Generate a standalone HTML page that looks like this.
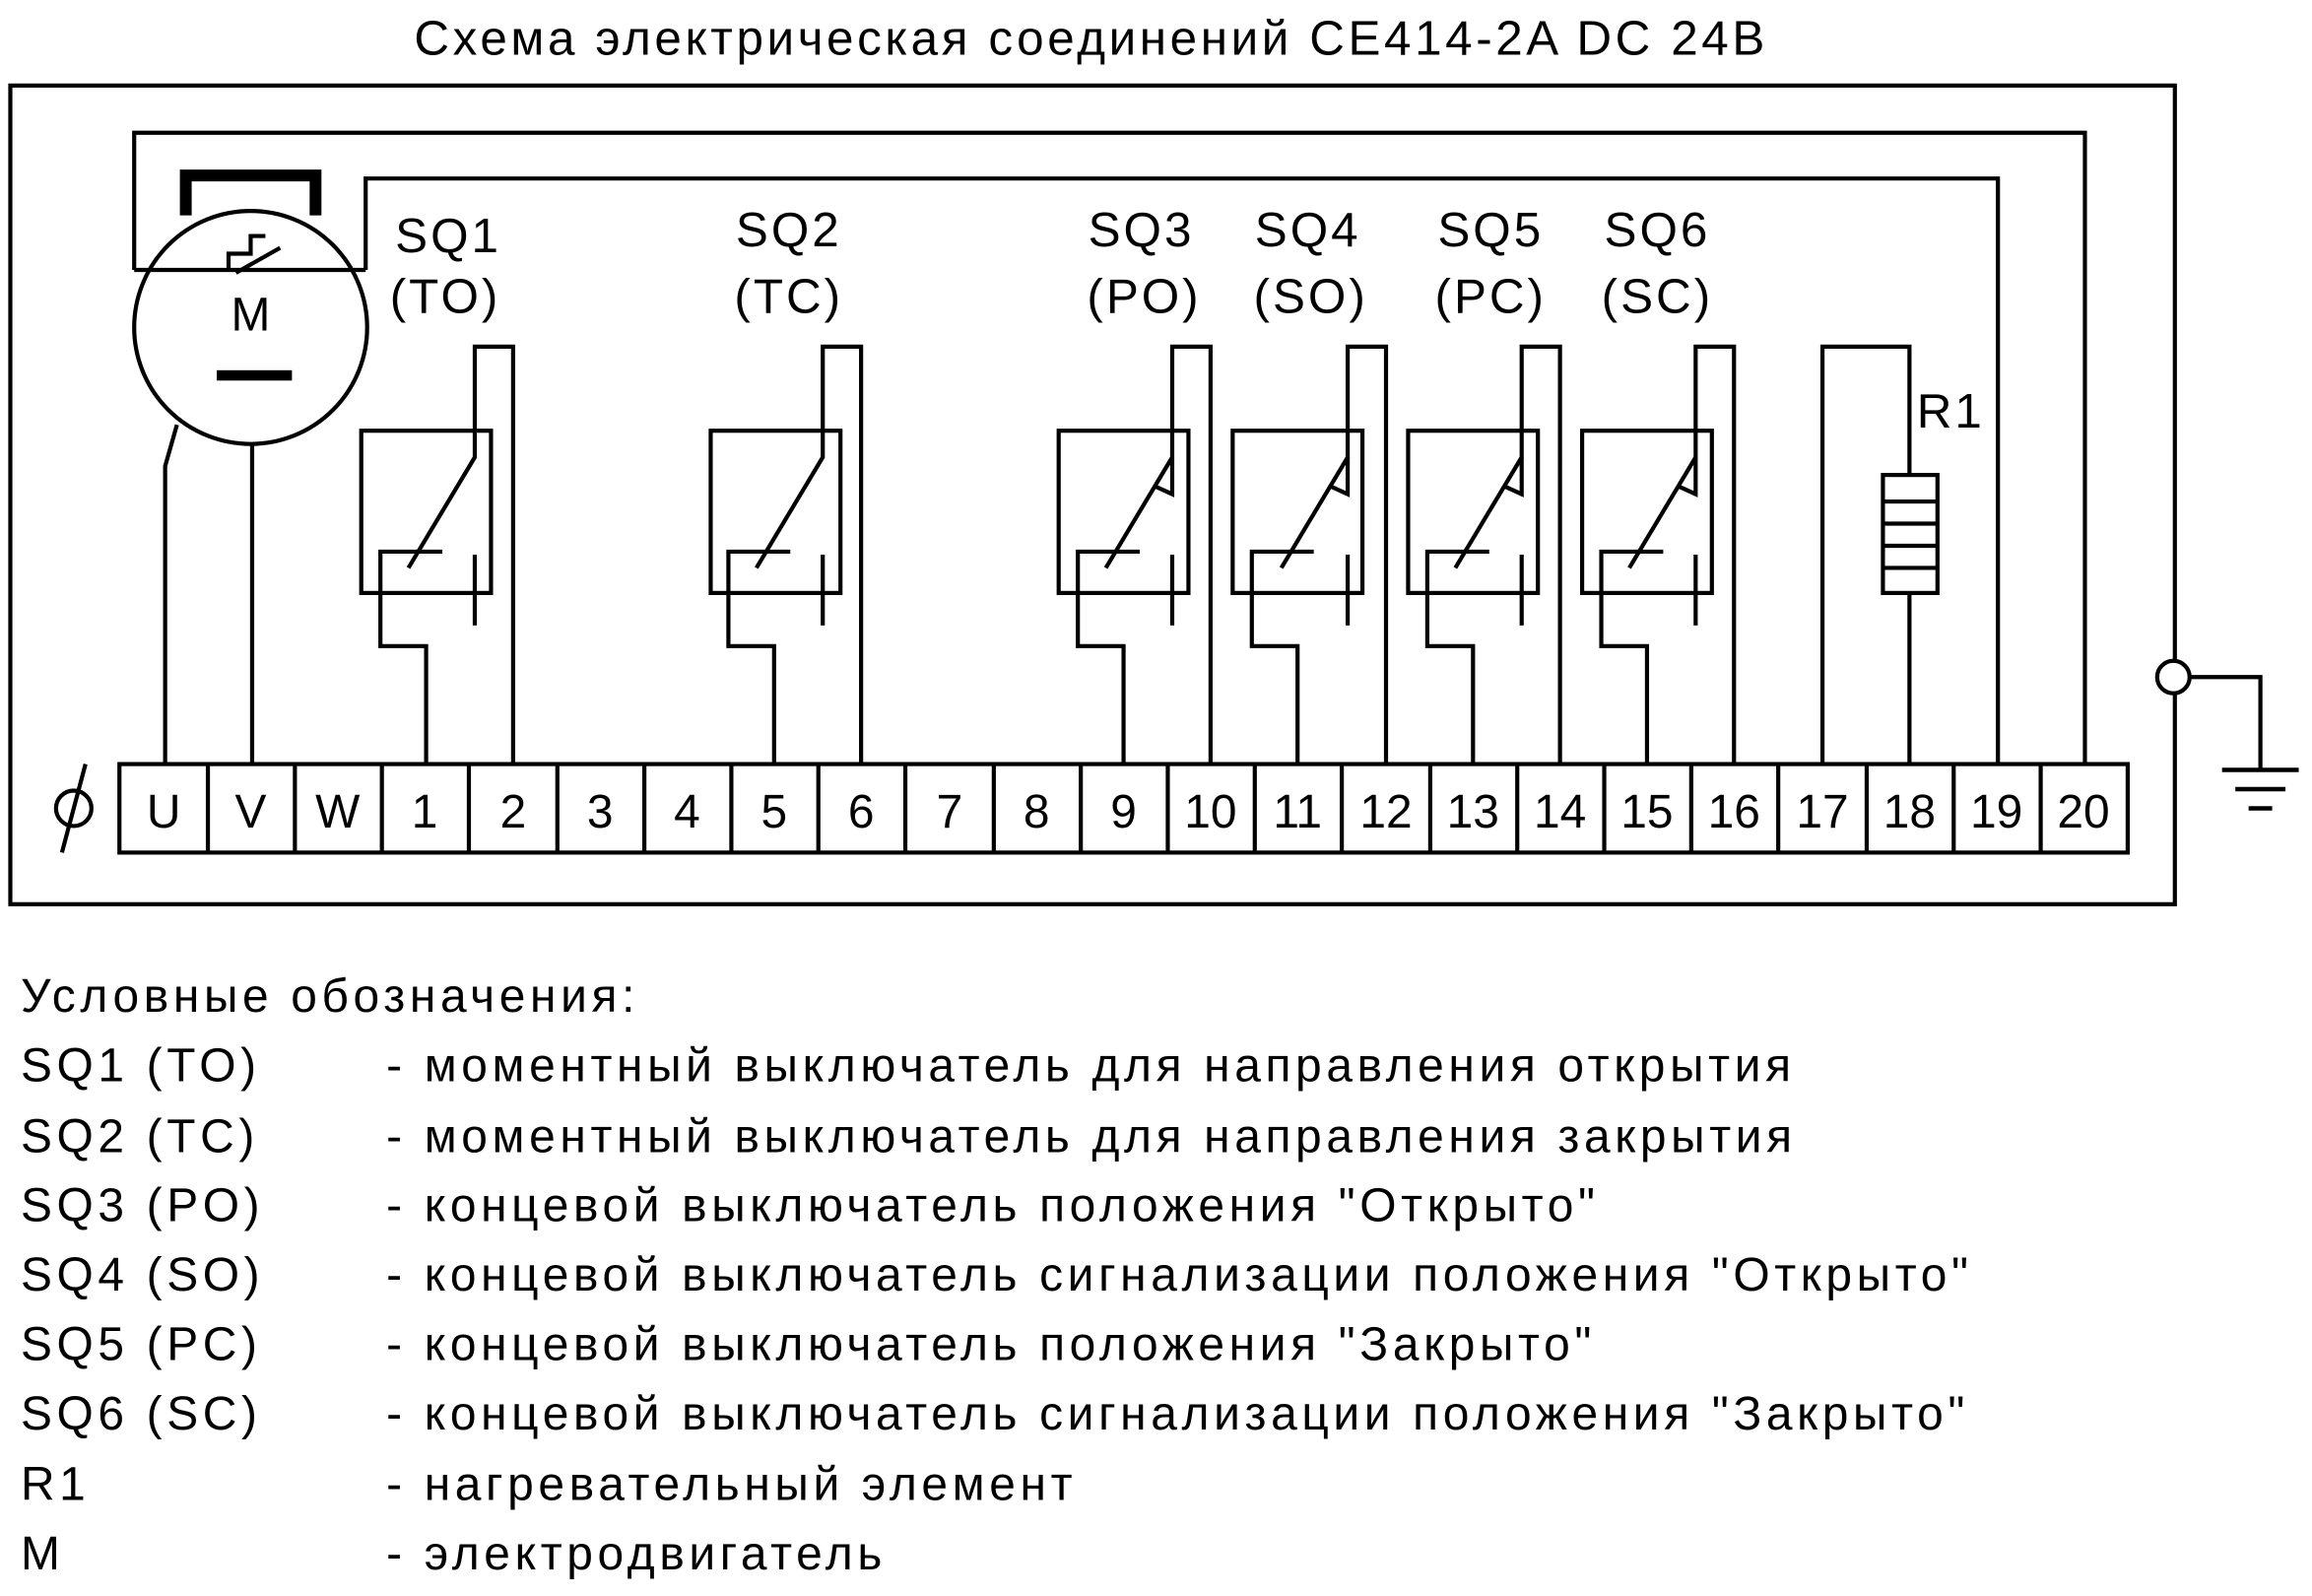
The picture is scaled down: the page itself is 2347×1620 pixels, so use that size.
<!DOCTYPE html>
<html><head><meta charset="utf-8"><style>
html,body{margin:0;padding:0;background:#fff;}
svg{display:block;}
text{font-family:"Liberation Sans","DejaVu Sans",sans-serif;fill:#000;}
</style></head><body>
<svg width="2347" height="1620" viewBox="0 0 1568 1082" preserveAspectRatio="none" xmlns="http://www.w3.org/2000/svg">
<g stroke="#000" stroke-width="2.8" fill="none">
<rect x="7" y="58" width="1468" height="555"/>
<polyline points="91,183 91,90 1414,90 1414,518"/>
<polyline points="91,183 248,183"/>
<polyline points="248,183 248,121 1355,121 1355,518"/>
<circle cx="170" cy="222" r="79"/>
<polyline points="112,518 112,316 120,288"/>
<line x1="171" y1="518" x2="171" y2="301"/>
<polyline points="155,183 155,172 170,172 170,160 180,160" />
<polyline points="160,185 190,168"/>
</g>
<path d="M122,115 H218 V146 H210 V123 H130 V146 H122 Z" fill="#000"/>
<rect x="147" y="251" width="51" height="7" fill="#000"/>
<text x="170" y="224" font-size="32" text-anchor="middle">M</text>

<g stroke="#000" stroke-width="2.8" fill="none">
<rect x="245" y="292" width="88" height="110"/>
<polyline points="289,518 289,438 258,438 258,374 300,374"/>
<polyline points="348,518 348,235 322,235 322,310 277,385"/>
<line x1="322" y1="376" x2="322" y2="424"/>
<rect x="482" y="292" width="88" height="110"/>
<polyline points="525,518 525,438 494,438 494,374 536,374"/>
<polyline points="584,518 584,235 558,235 558,310 513,385"/>
<line x1="558" y1="376" x2="558" y2="424"/>
<rect x="718" y="292" width="88" height="110"/>
<polyline points="762,518 762,438 731,438 731,374 773,374"/>
<polyline points="821,518 821,235 795,235 795,310 750,385"/>
<polyline points="795,310 795,335 784,330"/>
<line x1="795" y1="376" x2="795" y2="424"/>
<rect x="836" y="292" width="88" height="110"/>
<polyline points="880,518 880,438 849,438 849,374 891,374"/>
<polyline points="940,518 940,235 914,235 914,310 869,385"/>
<polyline points="914,310 914,335 903,330"/>
<line x1="914" y1="376" x2="914" y2="424"/>
<rect x="955" y="292" width="88" height="110"/>
<polyline points="999,518 999,438 968,438 968,374 1010,374"/>
<polyline points="1058,518 1058,235 1032,235 1032,310 987,385"/>
<polyline points="1032,310 1032,335 1021,330"/>
<line x1="1032" y1="376" x2="1032" y2="424"/>
<rect x="1073" y="292" width="88" height="110"/>
<polyline points="1117,518 1117,438 1086,438 1086,374 1128,374"/>
<polyline points="1176,518 1176,235 1150,235 1150,310 1105,385"/>
<polyline points="1150,310 1150,335 1139,330"/>
<line x1="1150" y1="376" x2="1150" y2="424"/>
<polyline points="1236,518 1236,235 1295,235 1295,322"/>
<rect x="1277" y="322" width="37" height="80"/>
<line x1="1277" y1="340" x2="1314" y2="340"/>
<line x1="1277" y1="355" x2="1314" y2="355"/>
<line x1="1277" y1="370" x2="1314" y2="370"/>
<line x1="1277" y1="385" x2="1314" y2="385"/>
<line x1="1295" y1="402" x2="1295" y2="518"/>
<rect x="81" y="518" width="1362" height="60"/>
<line x1="141" y1="518" x2="141" y2="578"/><line x1="200" y1="518" x2="200" y2="578"/>
<line x1="259" y1="518" x2="259" y2="578"/><line x1="318" y1="518" x2="318" y2="578"/>
<line x1="378" y1="518" x2="378" y2="578"/><line x1="437" y1="518" x2="437" y2="578"/>
<line x1="496" y1="518" x2="496" y2="578"/><line x1="555" y1="518" x2="555" y2="578"/>
<line x1="614" y1="518" x2="614" y2="578"/><line x1="674" y1="518" x2="674" y2="578"/>
<line x1="733" y1="518" x2="733" y2="578"/><line x1="792" y1="518" x2="792" y2="578"/>
<line x1="851" y1="518" x2="851" y2="578"/><line x1="910" y1="518" x2="910" y2="578"/>
<line x1="970" y1="518" x2="970" y2="578"/><line x1="1029" y1="518" x2="1029" y2="578"/>
<line x1="1088" y1="518" x2="1088" y2="578"/><line x1="1147" y1="518" x2="1147" y2="578"/>
<line x1="1206" y1="518" x2="1206" y2="578"/><line x1="1266" y1="518" x2="1266" y2="578"/>
<line x1="1325" y1="518" x2="1325" y2="578"/><line x1="1384" y1="518" x2="1384" y2="578"/>
<circle cx="50" cy="548" r="12"/>
<line x1="42" y1="578" x2="58" y2="518"/>
<circle cx="1474" cy="459" r="11" fill="#fff"/>
<polyline points="1485,459 1533,459 1533,522"/>
<line x1="1507" y1="522" x2="1559" y2="522" stroke-width="3"/>
<line x1="1516" y1="535" x2="1550" y2="535" stroke-width="3"/>
<line x1="1525" y1="548" x2="1541" y2="548" stroke-width="3"/>
</g>

<g font-size="33" text-anchor="middle" letter-spacing="2">
<text x="740" y="37" letter-spacing="2.4">Схема электрическая соединений CE414-2A  DC 24B</text>
<text x="304" y="171">SQ1</text><text x="302" y="212">(TO)</text>
<text x="535" y="167">SQ2</text><text x="535" y="212">(TC)</text>
<text x="774" y="167">SQ3</text><text x="776" y="212">(PO)</text>
<text x="887" y="167">SQ4</text><text x="889" y="212">(SO)</text>
<text x="1011" y="167">SQ5</text><text x="1011" y="212">(PC)</text>
<text x="1124" y="167">SQ6</text><text x="1124" y="212">(SC)</text>
<text x="1323" y="290">R1</text>
</g>
<g font-size="32" text-anchor="middle">
<text x="111" y="561">U</text><text x="170" y="561">V</text><text x="229" y="561">W</text>
<text x="288" y="561">1</text><text x="348" y="561">2</text><text x="407" y="561">3</text>
<text x="466" y="561">4</text><text x="525" y="561">5</text><text x="584" y="561">6</text>
<text x="644" y="561">7</text><text x="703" y="561">8</text><text x="762" y="561">9</text>
<text x="821" y="561">10</text><text x="880" y="561">11</text><text x="940" y="561">12</text>
<text x="999" y="561">13</text><text x="1058" y="561">14</text><text x="1117" y="561">15</text>
<text x="1176" y="561">16</text><text x="1236" y="561">17</text><text x="1295" y="561">18</text>
<text x="1354" y="561">19</text><text x="1413" y="561">20</text>
</g>
<g font-size="32" letter-spacing="3.1">
<text x="14" y="686">Условные обозначения:</text>
<text x="14" y="733">SQ1 (TO)</text><text x="262" y="733">- моментный выключатель для направления открытия</text>
<text x="14" y="781">SQ2 (TC)</text><text x="262" y="781">- моментный выключатель  для направления закрытия</text>
<text x="14" y="828">SQ3 (PO)</text><text x="262" y="828">- концевой выключатель положения "Открыто"</text>
<text x="14" y="875">SQ4 (SO)</text><text x="262" y="875">- концевой выключатель сигнализации положения "Открыто"</text>
<text x="14" y="922">SQ5 (PC)</text><text x="262" y="922">- концевой выключатель положения "Закрыто"</text>
<text x="14" y="969">SQ6 (SC)</text><text x="262" y="969">- концевой выключатель сигнализации положения "Закрыто"</text>
<text x="14" y="1017">R1</text><text x="262" y="1017">- нагревательный элемент</text>
<text x="14" y="1064">M</text><text x="262" y="1064">- электродвигатель</text>
</g>
</svg>
</body></html>
